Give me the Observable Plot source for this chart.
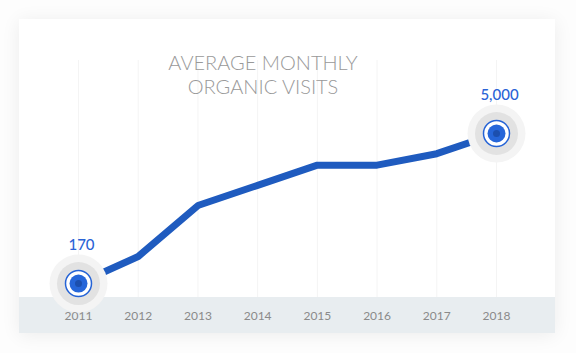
<!DOCTYPE html>
<html>
<head>
<meta charset="utf-8">
<script src="https://cdn.jsdelivr.net/npm/d3@7"></script>
<script src="https://cdn.jsdelivr.net/npm/@observablehq/plot@0.6"></script>
<style>
  html, body { margin: 0; padding: 0; background: #ffffff; }
  #wrap { position: relative; width: 576px; height: 353px; overflow: hidden; background: #fdfdfd; }
  #card { position: absolute; left: 19px; top: 19px; width: 536px; height: 314px; background: #ffffff;
          box-shadow: 0 2px 18px rgba(0,0,0,0.07); }
  #band { position: absolute; left: 0; bottom: 0; width: 536px; height: 36px; background: #e8edf0; }
  #title { position: absolute; left: 113px; width: 300px; top: 50px; text-align: center;
           font-family: Lato, "Open Sans", sans-serif; font-weight: 300; font-size: 20px; line-height: 24px;
           color: #999999; letter-spacing: 0px; }
  #chart { position: absolute; left: 0; top: 0; }
</style>
</head>
<body>
<div id="wrap">
  <div id="card"><div id="band"></div></div>
  <div id="chart"></div>
  <div id="title">AVERAGE MONTHLY<br>ORGANIC VISITS</div>
</div>
<script>
const years = [2011, 2012, 2013, 2014, 2015, 2016, 2017, 2018];
const visits = [170, 1040, 2680, 3330, 3980, 3980, 4350, 5000];
const highlightYears = [2011, 2018];
const highlightLabels = ["170", "5,000"];

const data = years.map((y, i) => ({year: y, visits: visits[i]}));
const highlights = highlightYears.map((y, i) => ({year: y, visits: visits[years.indexOf(y)], label: highlightLabels[i]}));

const chart = Plot.plot({
  width: 576,
  height: 353,
  marginTop: 60,
  marginBottom: 56,
  marginLeft: 20,
  marginRight: 20,
  style: {background: "transparent", overflow: "visible"},
  x: {domain: [2011, 2018], range: [78, 496], label: null},
  y: {domain: [0, 5000], range: [288.3, 133], axis: null},
  marks: [
    Plot.ruleX(years, {x: d => d, stroke: "#f4f4f4", strokeWidth: 1}),
    Plot.axisX({ticks: years, tickFormat: d => String(d), tickSize: 0, tickPadding: 14, label: null,
                fontSize: 12, fill: "#8a8a8a", fontFamily: "Lato, 'Open Sans', sans-serif"}),
    Plot.line(data, {x: "year", y: "visits", stroke: "#1f5bbf", strokeWidth: 7, strokeLinejoin: "miter"}),
    Plot.dot(highlights, {x: "year", y: "visits", r: 29, fill: "#f4f4f4", stroke: "none"}),
    Plot.dot(highlights, {x: "year", y: "visits", r: 21.5, fill: "#e2e2e2", stroke: "none"}),
    Plot.dot(highlights, {x: "year", y: "visits", r: 13, fill: "#ffffff", stroke: "#2563d6", strokeWidth: 1.5}),
    Plot.dot(highlights, {x: "year", y: "visits", r: 9, fill: "#2666d9", stroke: "none"}),
    Plot.dot(highlights, {x: "year", y: "visits", r: 3.5, fill: "#1c4fae", stroke: "none"}),
    Plot.text(highlights, {x: "year", y: "visits", text: "label", dy: -38, dx: 3, fontSize: 15,
                           fill: "#2a63d6", fontFamily: "Lato, 'Open Sans', sans-serif", fontWeight: 500,
                           style: "letter-spacing: 0.6px"})
  ]
});
document.getElementById("chart").appendChild(chart);
</script>
</body>
</html>
